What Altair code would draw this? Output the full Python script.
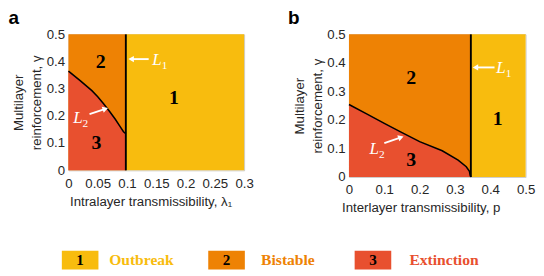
import altair as alt
import pandas as pd

YELLOW = "#F8BC0E"
ORANGE = "#EE8204"
RED = "#E8502F"

# ---------------- panel a data ----------------
a_xmax = 0.3
a_l1 = 0.098
a_curve_x = [0, 0.02, 0.04, 0.05, 0.06, 0.07, 0.08, 0.088, 0.094, 0.098]
a_curve_y = [0.365, 0.330, 0.293, 0.271, 0.245, 0.217, 0.188, 0.162, 0.142, 0.135]
a_xticks = [0, 0.05, 0.1, 0.15, 0.2, 0.25, 0.3]
a_region_x = [0.18, 0.055, 0.048]
a_region_y = [0.263, 0.396, 0.10]
a_lab_x = [0.143, 0.008]
a_lab_y = [0.405, 0.19]
a_arrow_x1 = [0.137, 0.036]
a_arrow_y1 = [0.409, 0.207]
a_arrow_x2 = [0.107, 0.063]
a_arrow_y2 = [0.409, 0.226]

# ---------------- panel b data ----------------
b_xmax = 0.5
b_l1 = 0.345
b_curve_x = [0, 0.05, 0.10, 0.146, 0.20, 0.264, 0.309, 0.332, 0.341, 0.343, 0.345]
b_curve_y = [0.254, 0.221, 0.188, 0.158, 0.124, 0.092, 0.059, 0.036, 0.020, 0.006, 0.0]
b_xticks = [0, 0.1, 0.2, 0.3, 0.4, 0.5]
b_region_x = [0.421, 0.176, 0.176]
b_region_y = [0.202, 0.345, 0.058]
b_lab_x = [0.417, 0.058]
b_lab_y = [0.38, 0.097]
b_arrow_x1 = [0.412, 0.100]
b_arrow_y1 = [0.384, 0.119]
b_arrow_x2 = [0.358, 0.147]
b_arrow_y2 = [0.384, 0.139]

region_nums = ["1", "2", "3"]
lab_sub = ["1", "2"]
y_ticks = [0, 0.1, 0.2, 0.3, 0.4, 0.5]

# ---------------- legend data ----------------
leg_items = ["Outbreak", "Bistable", "Extinction"]
leg_nums = ["1", "2", "3"]
leg_idx = [0, 1, 2]
leg_text_pos = [0.323, 1.361, 2.374]
leg_colors = [YELLOW, ORANGE, RED]

SERIF = "Liberation Serif"
SANS = "Liberation Sans"
AX = dict(labelFont=SANS, labelFontSize=14, labelColor="#262626",
          titleFont=SANS, titleFontSize=14, titleFontWeight="normal", titleColor="#262626",
          ticks=False, domain=False, grid=False, labelOverlap=False)


def panel(letter, xmax, l1, cx, cy, xticks, rx, ry, lx, ly, ax1, ay1, ax2, ay2,
          xtitle, w, h, title_x, title_dx):
    xs = alt.Scale(domain=[0, xmax], nice=False, zero=False)
    ys = alt.Scale(domain=[0, 0.5], nice=False, zero=False)
    xax = alt.Axis(values=xticks, format="~g", title=xtitle, titleX=title_x,
                   labelPadding=7, titlePadding=5, labelFlush=False, **AX)
    yax = alt.Axis(values=y_ticks, format="~g",
                   title=["Multilayer", "reinforcement, \u03b3"],
                   titleLineHeight=19, labelPadding=4, titlePadding=3, **AX)

    def X(f):
        return alt.X(f, scale=xs, axis=xax)

    def Y(f):
        return alt.Y(f, scale=ys, axis=yax)

    orange_df = pd.DataFrame({"x": [0], "x2": [l1], "y": [0], "y2": [0.5]})
    yellow_df = pd.DataFrame({"x": [l1], "x2": [xmax], "y": [0], "y2": [0.5]})
    r_orange = alt.Chart(orange_df).mark_rect(color=ORANGE).encode(
        x=X("x:Q"), x2="x2:Q", y=Y("y:Q"), y2="y2:Q")
    r_yellow = alt.Chart(yellow_df).mark_rect(color=YELLOW).encode(
        x=X("x:Q"), x2="x2:Q", y=Y("y:Q"), y2="y2:Q")
    curve_df = pd.DataFrame({"x": cx, "y": cy})
    area = alt.Chart(curve_df).mark_area(color=RED).encode(x=X("x:Q"), y=Y("y:Q"))
    line = alt.Chart(curve_df).mark_line(color="black", strokeWidth=1.6).encode(
        x=X("x:Q"), y=Y("y:Q"))
    l1_rule = alt.Chart(pd.DataFrame({"x": [l1]})).mark_rule(
        color="black", strokeWidth=2).encode(x=X("x:Q"))

    reg_df = pd.DataFrame({"x": rx, "y": ry, "t": region_nums})
    regs = alt.Chart(reg_df).mark_text(font=SERIF, fontWeight="bold", fontSize=21,
                                       color="black").encode(
        x=X("x:Q"), y=Y("y:Q"), text="t:N")

    lab_df = pd.DataFrame({"x": lx, "y": ly, "s": lab_sub})
    lab_L = alt.Chart(lab_df).mark_text(font=SERIF, fontStyle="italic", fontSize=18,
                                        color="white", align="left",
                                        baseline="middle").encode(
        x=X("x:Q"), y=Y("y:Q"), text=alt.value("L"))
    lab_s = alt.Chart(lab_df).mark_text(font=SERIF, fontSize=12, color="white",
                                        align="left", baseline="middle",
                                        dx=10, dy=5).encode(
        x=X("x:Q"), y=Y("y:Q"), text="s:N")

    arr_df = pd.DataFrame({"x": ax1, "y": ay1, "x2": ax2, "y2": ay2})
    shafts = alt.Chart(arr_df).mark_rule(color="white", strokeWidth=2).encode(
        x=X("x:Q"), y=Y("y:Q"), x2="x2:Q", y2="y2:Q")
    heads = alt.Chart(arr_df).transform_calculate(
        ang="(360 - atan2(datum.y2 - datum.y, (datum.x2 - datum.x) * %f / %f) * 180 / PI) %% 360"
        % (w / xmax, h / 0.5)
    ).mark_point(shape="triangle-right", filled=True, color="white", opacity=1,
                 size=45).encode(
        x=X("x2:Q"), y=Y("y2:Q"), angle=alt.Angle("ang:Q", scale=None))

    return alt.layer(r_orange, r_yellow, area, line, l1_rule, regs, lab_L, lab_s,
                     shafts, heads).properties(
        width=w, height=h,
        title=alt.TitleParams(letter, anchor="start", font=SANS, fontSize=20,
                              fontWeight="bold", color="black", offset=0, dx=title_dx),
    )


pa = panel("a", a_xmax, a_l1, a_curve_x, a_curve_y, a_xticks, a_region_x, a_region_y,
           a_lab_x, a_lab_y, a_arrow_x1, a_arrow_y1, a_arrow_x2, a_arrow_y2,
           "Intralayer transmissibility, \u03bb\u2081", 186, 144, 87, -4)
pb = panel("b", b_xmax, b_l1, b_curve_x, b_curve_y, b_xticks, b_region_x, b_region_y,
           b_lab_x, b_lab_y, b_arrow_x1, b_arrow_y1, b_arrow_x2, b_arrow_y2,
           "Interlayer transmissibility, p", 187, 151, 76, -5)

leg_df = pd.DataFrame({"i": leg_idx, "item": leg_items, "num": leg_nums, "xt": leg_text_pos})
lxs = alt.Scale(domain=[0, 3], range=[-7, 458])
lys = alt.Scale(domain=[0, 1])
lcol = alt.Scale(domain=leg_items, range=leg_colors)
leg_base = alt.Chart(leg_df).transform_calculate(
    x2="datum.i + 0.25", xc="datum.i + 0.125")
leg_box = leg_base.mark_rect(strokeWidth=1, strokeOpacity=0.5).encode(
    x=alt.X("i:Q", scale=lxs, axis=None), x2="x2:Q",
    y=alt.Y(datum=0, scale=lys, axis=None), y2=alt.Y2(datum=1),
    color=alt.Color("item:N", scale=lcol, legend=None),
)
leg_num = leg_base.mark_text(font=SERIF, fontWeight="bold", fontSize=16,
                             color="black").encode(
    x=alt.X("xc:Q", scale=lxs, axis=None),
    y=alt.Y(datum=0.5, scale=lys, axis=None), text="num:N")
leg_txt = leg_base.mark_text(font=SERIF, fontWeight="bold", fontSize=16.5,
                             align="left").encode(
    x=alt.X("xt:Q", scale=lxs, axis=None),
    y=alt.Y(datum=0.5, scale=lys, axis=None), text="item:N",
    color=alt.Color("item:N", scale=lcol, legend=None))
legend = alt.layer(leg_box, leg_num, leg_txt).properties(
    width=420, height=20, view=alt.ViewBackground(stroke=None))

top = alt.hconcat(pa, pb, spacing=35).resolve_scale(x="independent", y="independent")
chart = alt.vconcat(top, legend, spacing=37).resolve_scale(
    x="independent", y="independent", color="independent"
).properties(
    padding={"left": 0, "top": -8, "right": 0, "bottom": 0}
).configure_view(stroke="#c8c8c8", strokeWidth=1).configure_axis(labelOverlap=False)

chart.save("out.html", embed_options={"renderer": "svg", "actions": False})
